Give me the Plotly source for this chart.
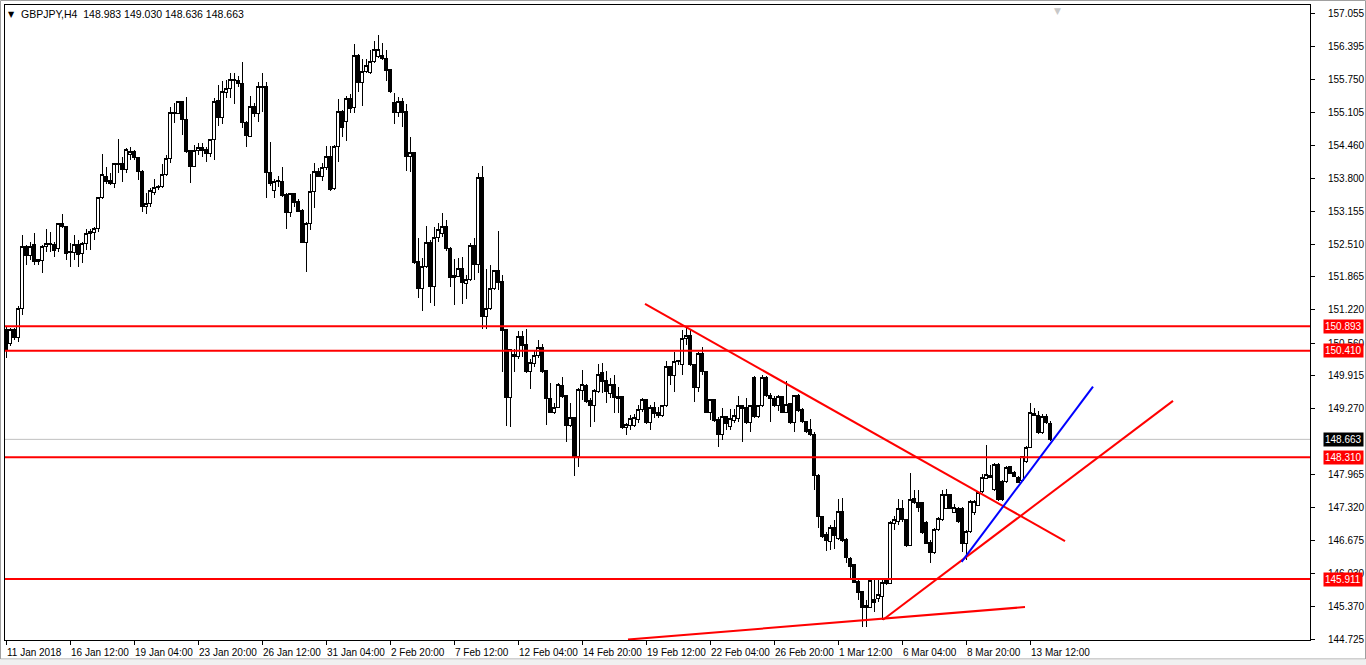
import plotly.graph_objects as go

symbol_title = "GBPJPY,H4"
header_values = ["148.983", "149.030", "148.636", "148.663"]

opens = [
    150.82, 150.56, 150.82, 150.66, 151.25, 152.47, 152.28, 152.51, 152.20, 152.18,
    152.47, 152.51, 152.51, 152.42, 152.91, 152.85, 152.36, 152.34, 152.51, 152.32,
    152.53, 152.71, 152.73, 152.81, 153.42, 153.85, 153.77, 153.71, 154.07, 154.09,
    153.97, 154.27, 154.33, 154.21, 153.93, 153.24, 153.30, 153.52, 153.62, 153.64,
    153.87, 154.19, 155.09, 155.09, 155.31, 154.96, 154.35, 154.03, 154.35, 154.41,
    154.37, 154.29, 154.56, 155.33, 155.01, 155.49, 155.57, 155.74, 155.74, 155.67,
    154.90, 154.62, 155.21, 155.09, 155.59, 155.61, 153.91, 153.56, 153.75, 153.75,
    153.48, 153.14, 153.50, 153.34, 153.18, 152.55, 152.91, 153.54, 153.93, 153.85,
    154.01, 154.23, 153.60, 154.44, 155.13, 154.92, 155.37, 155.19, 156.22, 155.70,
    155.90, 155.88, 156.10, 156.20, 156.22, 156.16, 155.94, 155.29, 155.11, 155.31,
    155.13, 154.23, 154.31, 152.16, 151.63, 152.06, 152.55, 151.67, 152.63, 152.71,
    152.85, 152.43, 151.90, 151.88, 152.02, 151.73, 151.82, 152.49, 152.10, 153.83,
    151.08, 151.25, 151.63, 151.98, 151.78, 150.82, 149.48, 150.33, 150.29, 150.68,
    150.54, 149.99, 150.15, 150.31, 150.48, 150.01, 149.46, 149.20, 149.30, 149.73,
    149.52, 148.93, 149.09, 148.32, 149.62, 149.73, 149.42, 149.32, 149.60, 149.97,
    149.83, 149.56, 149.75, 149.50, 149.50, 148.89, 148.93, 148.93, 149.05, 149.26,
    149.44, 148.99, 149.30, 149.20, 149.13, 149.32, 150.09, 149.93, 150.19, 150.13,
    150.64, 150.70, 150.13, 149.68, 150.35, 149.99, 149.20, 149.44, 149.05, 148.75,
    149.11, 148.91, 149.03, 149.07, 149.32, 149.30, 148.99, 149.89, 149.11, 149.32,
    149.89, 149.52, 149.46, 149.32, 149.50, 149.20, 149.36, 148.99, 149.52, 149.26,
    149.01, 148.85, 148.75, 147.96, 147.14, 146.78, 146.66, 146.92, 146.72, 147.25,
    146.70, 146.31, 146.19, 145.87, 145.66, 145.36, 145.36, 145.50, 145.52, 145.56,
    145.89, 145.83, 147.00, 147.04, 147.31, 147.08, 146.58, 147.49, 147.41, 147.41,
    147.02, 146.64, 146.43, 146.88, 147.08, 147.31, 147.57, 147.23, 147.31, 147.31,
    146.62, 146.84, 147.23, 147.37, 147.63, 147.90, 147.96, 147.67, 148.16, 147.83,
    147.83, 148.12, 148.02, 147.92, 147.86, 148.22, 148.51, 149.18, 149.14, 148.79,
    149.11, 148.983,
]

highs = [
    150.90, 150.86, 150.86, 151.29, 152.69, 152.49, 152.55, 152.73, 152.22, 152.49,
    152.81, 152.75, 152.55, 152.93, 153.10, 152.87, 152.53, 152.69, 152.59, 152.55,
    152.81, 152.81, 152.85, 153.44, 154.29, 154.03, 153.91, 154.11, 154.58, 154.23,
    154.41, 154.43, 154.37, 154.23, 153.97, 153.52, 153.62, 153.79, 153.68, 154.09,
    154.27, 155.21, 155.29, 155.33, 155.33, 155.41, 154.37, 154.46, 154.50, 154.50,
    154.43, 154.58, 155.39, 155.64, 155.72, 155.74, 155.88, 155.88, 155.82, 156.10,
    154.94, 155.43, 155.29, 155.70, 155.88, 155.70, 154.52, 153.79, 153.85, 154.03,
    153.52, 153.52, 153.52, 153.40, 153.20, 152.95, 153.89, 154.11, 154.01, 154.11,
    154.44, 154.44, 154.46, 155.37, 155.15, 155.43, 155.47, 156.45, 156.26, 156.16,
    156.16, 156.33, 156.51, 156.63, 156.47, 156.33, 155.96, 155.49, 155.41, 155.39,
    155.27, 154.62, 154.33, 152.63, 152.24, 152.87, 152.59, 152.85, 152.93, 153.12,
    152.99, 152.45, 152.22, 152.24, 152.26, 151.90, 152.53, 152.63, 153.91, 154.05,
    152.02, 152.10, 152.00, 152.77, 151.90, 150.84, 150.44, 150.44, 150.80, 150.80,
    150.84, 150.25, 150.43, 150.62, 150.54, 150.03, 149.77, 149.38, 149.77, 149.89,
    149.54, 149.38, 149.11, 149.68, 150.03, 149.75, 149.48, 149.66, 150.15, 150.17,
    150.01, 149.87, 149.93, 149.70, 149.52, 148.99, 149.14, 149.16, 149.34, 149.48,
    149.46, 149.34, 149.40, 149.30, 149.34, 150.21, 150.11, 150.39, 150.23, 150.82,
    150.88, 150.84, 150.15, 150.39, 150.48, 150.01, 149.46, 149.46, 149.11, 149.28,
    149.13, 149.26, 149.26, 149.52, 149.34, 149.48, 149.34, 149.91, 149.34, 149.93,
    149.91, 149.58, 149.52, 149.54, 149.52, 149.81, 149.38, 149.54, 149.56, 149.28,
    149.03, 149.07, 148.81, 147.98, 147.16, 146.84, 146.98, 147.08, 147.49, 147.51,
    146.72, 146.35, 146.21, 145.89, 145.68, 145.50, 145.93, 145.89, 145.89, 145.93,
    145.93, 147.06, 147.16, 147.49, 147.47, 147.10, 148.00, 147.67, 147.67, 147.43,
    147.06, 146.68, 146.92, 147.14, 147.67, 147.69, 147.59, 147.39, 147.33, 147.33,
    146.88, 147.47, 147.47, 147.63, 147.98, 148.55, 148.16, 148.20, 148.20, 147.86,
    148.14, 148.14, 148.04, 147.94, 148.34, 148.53, 149.38, 149.28, 149.22, 149.16,
    149.16, 149.030,
]

lows = [
    150.27, 150.50, 150.62, 150.58, 151.11, 152.10, 152.20, 152.10, 152.10, 151.94,
    152.36, 152.36, 152.26, 152.36, 152.83, 152.20, 152.06, 152.20, 152.06, 152.14,
    152.40, 152.40, 152.59, 152.75, 153.40, 153.69, 153.68, 153.62, 153.91, 153.73,
    153.91, 154.17, 154.17, 153.77, 153.14, 153.10, 153.24, 153.48, 153.58, 153.62,
    153.85, 154.11, 154.90, 155.09, 154.66, 154.31, 153.71, 154.03, 154.27, 154.23,
    154.13, 154.23, 154.17, 154.84, 154.88, 155.39, 155.39, 155.27, 155.61, 154.80,
    154.42, 154.62, 155.01, 154.92, 155.11, 153.42, 153.66, 153.42, 153.64, 153.44,
    152.81, 153.05, 153.24, 153.14, 152.53, 151.96, 152.79, 153.22, 153.83, 153.75,
    153.97, 153.56, 153.58, 154.13, 154.62, 154.54, 155.09, 155.09, 155.51, 155.23,
    155.88, 155.86, 156.08, 156.18, 156.14, 155.72, 155.49, 154.88, 155.01, 154.82,
    153.95, 153.93, 152.12, 151.45, 151.19, 152.04, 151.35, 151.29, 152.55, 152.65,
    152.38, 151.67, 151.31, 151.86, 151.33, 151.43, 151.78, 151.80, 151.94, 150.84,
    150.84, 151.21, 151.61, 151.61, 149.99, 148.93, 148.91, 149.99, 150.25, 150.29,
    149.97, 149.66, 150.09, 150.27, 149.97, 148.95, 149.18, 149.16, 149.30, 149.48,
    148.61, 148.91, 147.94, 148.12, 149.44, 149.38, 148.91, 149.01, 149.58, 149.58,
    149.38, 149.48, 149.18, 149.18, 148.87, 148.75, 148.85, 148.91, 148.99, 149.20,
    148.97, 148.85, 149.09, 149.09, 149.11, 149.30, 149.73, 149.60, 150.13, 149.93,
    150.52, 150.11, 149.40, 149.60, 149.93, 149.18, 149.05, 149.01, 148.51, 148.65,
    148.85, 148.85, 148.99, 149.01, 148.61, 148.97, 148.81, 149.09, 149.09, 149.30,
    149.50, 149.01, 149.30, 149.22, 149.18, 149.18, 148.97, 148.81, 149.20, 148.99,
    148.79, 148.73, 147.67, 146.92, 146.72, 146.47, 146.49, 146.51, 146.68, 146.64,
    146.23, 145.89, 145.83, 145.50, 144.97, 144.97, 145.34, 145.26, 145.46, 145.11,
    145.79, 145.81, 146.88, 146.98, 147.04, 146.54, 146.56, 147.39, 147.23, 146.80,
    146.60, 146.23, 146.41, 146.86, 147.06, 147.29, 147.29, 147.21, 147.02, 146.45,
    146.29, 146.82, 147.17, 147.35, 147.61, 147.88, 147.90, 147.65, 147.45, 147.45,
    147.81, 147.98, 147.92, 147.81, 147.84, 148.20, 148.49, 149.12, 148.77, 148.77,
    148.97, 148.636,
]

closes = [
    150.43, 150.82, 150.66, 151.25, 152.47, 152.28, 152.47, 152.16, 152.16, 152.47,
    152.53, 152.53, 152.38, 152.91, 152.85, 152.32, 152.34, 152.51, 152.30, 152.53,
    152.71, 152.75, 152.81, 153.42, 153.87, 153.75, 153.71, 154.09, 154.09, 153.97,
    154.37, 154.33, 154.21, 153.93, 153.24, 153.30, 153.56, 153.62, 153.64, 153.87,
    154.19, 155.11, 155.11, 155.31, 154.96, 154.33, 154.03, 154.35, 154.41, 154.35,
    154.29, 154.56, 155.31, 155.01, 155.51, 155.57, 155.76, 155.76, 155.67, 154.90,
    154.64, 155.21, 155.09, 155.61, 155.61, 153.91, 153.71, 153.75, 153.77, 153.46,
    153.14, 153.50, 153.32, 153.16, 152.55, 152.91, 153.54, 153.93, 153.85, 154.01,
    154.23, 153.58, 154.44, 155.13, 154.80, 155.37, 155.17, 156.22, 155.70, 155.90,
    156.02, 156.10, 156.35, 156.35, 156.16, 155.92, 155.51, 155.11, 155.31, 155.11,
    154.23, 154.31, 152.14, 151.63, 152.06, 152.55, 151.67, 152.63, 152.79, 152.85,
    152.42, 151.86, 151.86, 152.02, 151.75, 151.82, 152.49, 152.10, 153.83, 151.08,
    151.25, 151.63, 151.98, 151.76, 150.80, 149.48, 150.43, 150.29, 150.68, 150.52,
    149.99, 150.17, 150.31, 150.48, 149.99, 149.46, 149.20, 149.30, 149.75, 149.50,
    148.93, 149.09, 148.32, 149.64, 149.75, 149.40, 149.32, 149.62, 149.95, 149.81,
    149.60, 149.75, 149.48, 149.46, 148.89, 148.95, 149.07, 149.09, 149.26, 149.44,
    148.99, 149.30, 149.18, 149.13, 149.32, 150.09, 149.93, 150.19, 150.21, 150.64,
    150.70, 150.13, 149.68, 150.35, 149.99, 149.20, 149.44, 149.03, 148.75, 149.11,
    148.97, 149.07, 149.14, 149.32, 149.28, 148.99, 149.32, 149.11, 149.32, 149.89,
    149.52, 149.46, 149.32, 149.50, 149.20, 149.34, 148.99, 149.52, 149.24, 149.01,
    148.81, 148.75, 147.96, 147.14, 146.74, 146.68, 146.92, 146.76, 147.25, 146.68,
    146.33, 146.15, 145.85, 145.64, 145.36, 145.40, 145.89, 145.44, 145.60, 145.85,
    145.83, 147.02, 147.08, 147.31, 147.08, 146.58, 147.47, 147.41, 147.33, 146.82,
    146.62, 146.43, 146.88, 147.10, 147.57, 147.57, 147.31, 147.33, 147.04, 146.62,
    146.84, 147.43, 147.43, 147.61, 147.92, 147.98, 147.92, 148.16, 147.47, 147.47,
    148.10, 148.00, 147.94, 147.82, 148.32, 148.51, 149.20, 149.14, 148.79, 149.11,
    148.99, 148.663,
]

assert len(opens) == len(highs) == len(lows) == len(closes), (
    len(opens), len(highs), len(lows), len(closes))
bars = list(range(len(opens)))

date_labels = [
    "11 Jan 2018", "16 Jan 12:00", "19 Jan 04:00", "23 Jan 20:00", "26 Jan 12:00",
    "31 Jan 04:00", "2 Feb 20:00", "7 Feb 12:00", "12 Feb 04:00", "14 Feb 20:00",
    "19 Feb 12:00", "22 Feb 04:00", "26 Feb 20:00", "1 Mar 12:00", "6 Mar 04:00",
    "8 Mar 20:00", "13 Mar 12:00",
]
label_bars = [16 * k for k in range(len(date_labels))]

price_ticks = [
    157.055, 156.395, 155.750, 155.105, 154.460, 153.800, 153.155, 152.510,
    151.865, 151.220, 150.560, 149.915, 149.270, 147.965, 147.320, 146.675,
    146.030, 145.370, 144.725,
]

level_prices = [150.893, 150.410, 148.310, 145.911]
last_price = 148.663

# trend lines: (bar index, price) endpoints
desc_line_bars = [159.75, 264.75]
desc_line_prices = [151.33, 146.66]
rise_line_bars = [219.25, 291.75]
rise_line_prices = [145.11, 149.42]
base_line_bars = [155.5, 254.75]
base_line_prices = [144.72, 145.36]
blue_line_bars = [238.9, 271.75]
blue_line_prices = [146.25, 149.70]

FONT = "Liberation Sans, Arial, sans-serif"
RED = "#ff0000"

fig = go.Figure(
    go.Candlestick(
        x=bars, open=opens, high=highs, low=lows, close=closes,
        increasing=dict(line=dict(color="black", width=1), fillcolor="white"),
        decreasing=dict(line=dict(color="black", width=1), fillcolor="black"),
        whiskerwidth=0, hoverinfo="skip", showlegend=False,
    )
)

shapes = []
shapes.append(dict(type="line", xref="paper", x0=0, x1=1, yref="y",
                   y0=last_price, y1=last_price,
                   line=dict(color="#c0c0c0", width=1), layer="below"))
for lv in level_prices:
    shapes.append(dict(type="line", xref="paper", x0=0, x1=1, yref="y",
                       y0=lv, y1=lv, line=dict(color=RED, width=2)))
for bx, py, col in [
    (desc_line_bars, desc_line_prices, RED),
    (rise_line_bars, rise_line_prices, RED),
    (base_line_bars, base_line_prices, RED),
    (blue_line_bars, blue_line_prices, "#0000ff"),
]:
    shapes.append(dict(type="line", xref="x", yref="y", x0=bx[0], x1=bx[1],
                       y0=py[0], y1=py[1], line=dict(color=col, width=2)))

PW, PH = 1305.0, 635.0
shapes.append(dict(type="rect", xref="paper", yref="paper",
                   x0=-4.5 / PW, x1=1360.5 / PW, y0=1 - 654 / PH, y1=1 + 4.5 / PH,
                   line=dict(color="#a0a0a0", width=1), fillcolor="rgba(0,0,0,0)",
                   layer="below"))
shapes.append(dict(type="rect", xref="paper", yref="paper",
                   x0=-5 / PW, x1=1361 / PW, y0=1 - 660 / PH, y1=1 - 654.5 / PH,
                   line=dict(width=0), fillcolor="#f0f0f0", layer="below"))

annotations = []
for lv in level_prices:
    annotations.append(dict(xref="paper", x=1, yref="y", y=lv, xanchor="left",
                            yanchor="middle", xshift=13, text=f"{lv:.3f}",
                            showarrow=False, bgcolor=RED, borderpad=1,
                            font=dict(family=FONT, size=10, color="white")))
annotations.append(dict(xref="paper", x=1, yref="y", y=last_price, xanchor="left",
                        yanchor="middle", xshift=13, text=f"{last_price:.3f}",
                        showarrow=False, bgcolor="black", borderpad=1,
                        font=dict(family=FONT, size=10, color="white")))
annotations.append(dict(xref="paper", x=0, yref="paper", y=1, xanchor="left",
                        yanchor="top", xshift=1, yshift=-3, text="▼",
                        showarrow=False, font=dict(family="DejaVu Sans", size=8, color="black")))
annotations.append(dict(xref="paper", x=0, yref="paper", y=1, xanchor="left",
                        yanchor="top", xshift=14, yshift=-1,
                        text=symbol_title + "\u00a0\u00a0" + " ".join(header_values),
                        showarrow=False, font=dict(family=FONT, size=10.5, color="black")))
annotations.append(dict(xref="paper", x=1052 / PW, yref="paper", y=1, xanchor="center",
                        yanchor="top", yshift=1, text="▼", showarrow=False,
                        font=dict(family="DejaVu Sans", size=9, color="#c8c8c8")))

fig.update_layout(
    width=1366, height=665,
    margin=dict(l=5, r=56, t=5, b=25, pad=0),
    paper_bgcolor="white", plot_bgcolor="white",
    showlegend=False,
    font=dict(family=FONT, size=10, color="black"),
    shapes=shapes, annotations=annotations,
    hovermode=False,
    boxgap=0.25,
)
fig.update_xaxes(
    range=[-0.25, 326], tickmode="array", tickvals=label_bars, ticktext=date_labels,
    ticks="outside", ticklen=4, tickcolor="black", tickwidth=1,
    ticklabelposition="outside right", tickangle=0, ticklabelstandoff=3,
    showgrid=False, zeroline=False, showline=True, linecolor="black", linewidth=1,
    mirror=True, rangeslider_visible=False, fixedrange=True, automargin=False,
    tickfont=dict(family=FONT, size=10, color="black"),
)
fig.update_yaxes(
    side="right", range=[144.711, 157.218], tickmode="array", tickvals=price_ticks,
    ticktext=[f"{v:.3f}" for v in price_ticks],
    ticks="outside", ticklen=4, tickcolor="black", tickwidth=1,
    ticklabelstandoff=11,
    showgrid=False, zeroline=False, showline=True, linecolor="black", linewidth=1,
    mirror=True, fixedrange=True, automargin=False,
    tickfont=dict(family=FONT, size=10, color="black"),
)

crisp_js = (
    "document.body.style.margin='0';document.body.style.overflow='hidden';"
    "document.querySelectorAll('.boxlayer path').forEach(function(p){"
    "p.style.shapeRendering='crispEdges';});"
)

fig.write_html("out.html", config={"displayModeBar": False}, post_script=crisp_js)
